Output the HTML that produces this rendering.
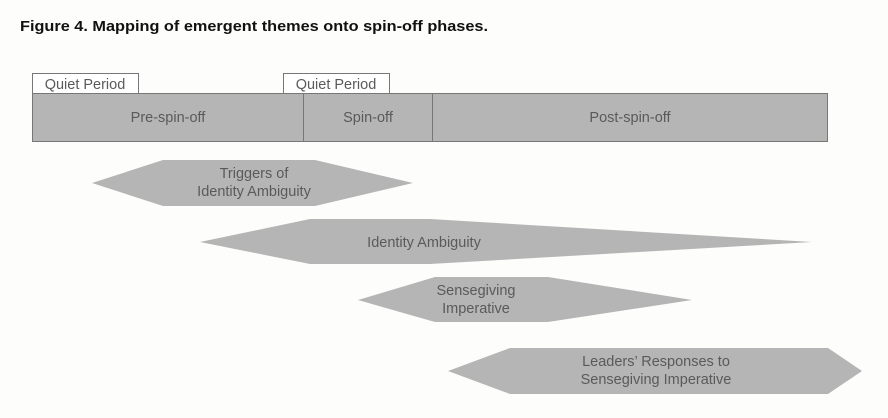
<!DOCTYPE html>
<html><head><style>
body{margin:0;background:#fdfdfb;}
svg text{font-family:"Liberation Sans",sans-serif;fill:#5a5a5a;font-size:14.5px;}
</style></head><body>
<svg width="888" height="413" xmlns="http://www.w3.org/2000/svg">
<text x="20" y="31" style="font-weight:bold;fill:#111;font-size:15px" textLength="468" lengthAdjust="spacingAndGlyphs">Figure 4. Mapping of emergent themes onto spin-off phases.</text>
<rect x="32.5" y="73.5" width="106" height="20" fill="#fff" stroke="#777"/>
<text x="85" y="89" text-anchor="middle">Quiet Period</text>
<rect x="283.5" y="73.5" width="106" height="20" fill="#fff" stroke="#777"/>
<text x="336" y="89" text-anchor="middle">Quiet Period</text>
<rect x="32.5" y="93.5" width="795" height="48" fill="#b5b5b5" stroke="#777"/>
<line x1="303.5" y1="93" x2="303.5" y2="142" stroke="#777"/>
<line x1="432.5" y1="93" x2="432.5" y2="142" stroke="#777"/>
<text x="168" y="122" text-anchor="middle">Pre-spin-off</text>
<text x="368" y="122" text-anchor="middle">Spin-off</text>
<text x="630" y="122" text-anchor="middle">Post-spin-off</text>
<polygon points="92,183 163,160 315,160 413,183 315,206 163,206" fill="#b5b5b5"/>
<text x="254" y="178" text-anchor="middle">Triggers of</text>
<text x="254" y="196" text-anchor="middle">Identity Ambiguity</text>
<polygon points="200,242 310,219 430,219 812,242 430,264 310,264" fill="#b5b5b5"/>
<text x="424" y="247" text-anchor="middle">Identity Ambiguity</text>
<polygon points="358,300 435,277 548,277 692,300 548,322 435,322" fill="#b5b5b5"/>
<text x="476" y="295" text-anchor="middle">Sensegiving</text>
<text x="476" y="313" text-anchor="middle">Imperative</text>
<polygon points="448,371 510,348 828,348 862,371 828,394 510,394" fill="#b5b5b5"/>
<text x="656" y="366" text-anchor="middle">Leaders’ Responses to</text>
<text x="656" y="384" text-anchor="middle">Sensegiving Imperative</text>
</svg>
</body></html>
